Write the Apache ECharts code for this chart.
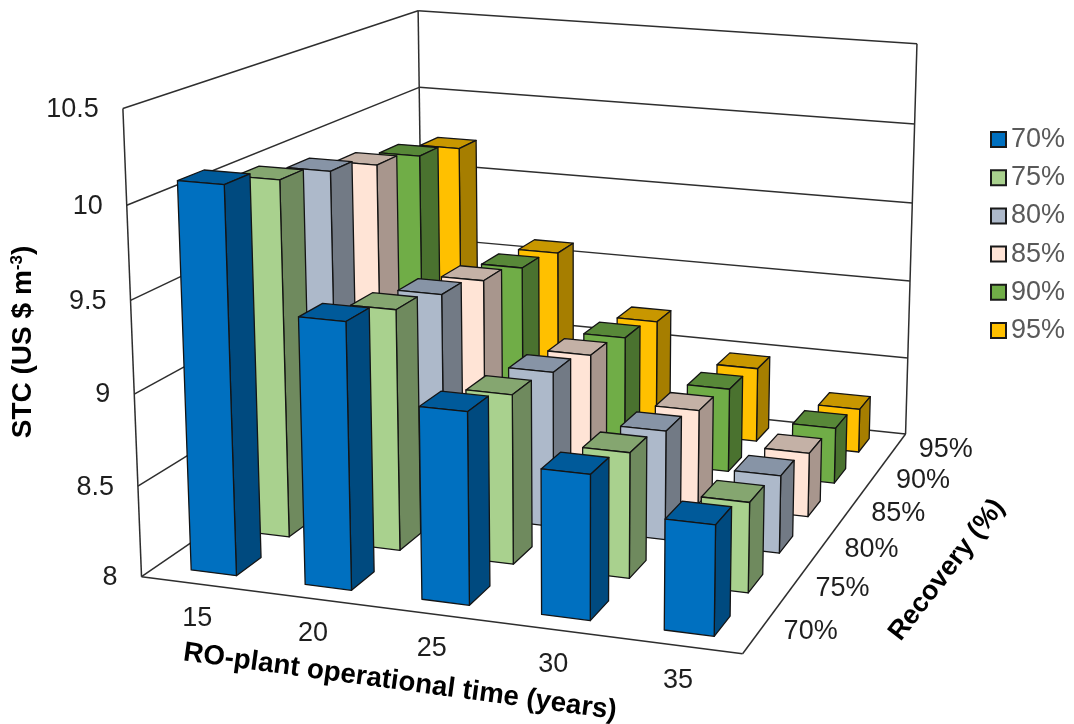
<!DOCTYPE html>
<html>
<head>
<meta charset="utf-8">
<style>html,body{margin:0;padding:0;background:#fff}#chart{width:1074px;height:724px}</style>
<script src="https://cdn.jsdelivr.net/npm/echarts@6/dist/echarts.min.js"></script>
</head>
<body>
<div id="chart"></div>
<script>
// Chart values
const timeLabels = ['15', '20', '25', '30', '35'];
const recoveryLabels = ['70%', '75%', '80%', '85%', '90%', '95%'];
const valueTicks = [8, 8.5, 9, 9.5, 10, 10.5];
const stc70 = [10.11, 9.45, 9.04, 8.78, 8.59];
const stc75 = [10.01, 9.355, 8.95, 8.70, 8.50];
const stc80 = [9.935, 9.285, 8.90, 8.63, 8.445];
const stc85 = [9.85, 9.215, 8.83, 8.565, 8.38];
const stc90 = [9.785, 9.145, 8.77, 8.515, 8.34];
const stc95 = [9.715, 9.095, 8.71, 8.47, 8.275];
const recoverySeries = [stc70, stc75, stc80, stc85, stc90, stc95];

// Face colours per recovery level: front, side, top
const faceColors = [
  ['#0070C0', '#004A7F', '#005A9A'],
  ['#A9D18E', '#6F8A5E', '#85A670'],
  ['#ADB9CA', '#727A85', '#8794A6'],
  ['#FFE4D6', '#A8968D', '#C4B1A6'],
  ['#70AD47', '#4A722F', '#588838'],
  ['#FFC000', '#A67E00', '#C89700']
];

// Where the corners of the unit box land on the page: [u, v, w, x, y]
const boxAnchors = [
  [0, 0, 0, 142, 575], [1, 0, 0, 742, 656], [1, 1, 0, 906, 431], [0, 1, 0, 423, 386],
  [0, 0, 1, 123, 108], [0, 1, 1, 418, 10], [1, 1, 1, 917, 45]
];

// Least-squares fit of a 3x4 projective camera to the anchors
function fitCamera(anchors) {
  const rows = [], rhs = [];
  anchors.forEach(([X, Y, Z, px, py]) => {
    const x = px / 1000, y = py / 1000;
    rows.push([X, Y, Z, 1, 0, 0, 0, 0, -x * X, -x * Y, -x * Z]); rhs.push(x);
    rows.push([0, 0, 0, 0, X, Y, Z, 1, -y * X, -y * Y, -y * Z]); rhs.push(y);
  });
  const n = 11, A = [];
  for (let i = 0; i < n; i++) {
    A.push(new Array(n + 1).fill(0));
    for (let j = 0; j < n; j++) rows.forEach(r => { A[i][j] += r[i] * r[j]; });
    rows.forEach((r, k) => { A[i][n] += r[i] * rhs[k]; });
  }
  for (let c = 0; c < n; c++) {
    let p = c;
    for (let r = c + 1; r < n; r++) if (Math.abs(A[r][c]) > Math.abs(A[p][c])) p = r;
    [A[c], A[p]] = [A[p], A[c]];
    for (let r = 0; r < n; r++) {
      if (r === c) continue;
      const f = A[r][c] / A[c][c];
      for (let k = c; k <= n; k++) A[r][k] -= f * A[c][k];
    }
  }
  return A.map((row, i) => row[n] / row[i]);
}
const cam = fitCamera(boxAnchors);
function project(u, v, w) {
  const d = cam[8] * u + cam[9] * v + cam[10] * w + 1;
  return [
    1000 * (cam[0] * u + cam[1] * v + cam[2] * w + cam[3]) / d,
    1000 * (cam[4] * u + cam[5] * v + cam[6] * w + cam[7]) / d
  ];
}

const barHalfU = 0.04, barHalfV = 0.038;
const axisFont = '27px "Liberation Sans", Arial, sans-serif';
const titleFont = 'bold 28px "Liberation Sans", Arial, sans-serif';

// Turn a data point into box coordinates through the hidden axes
function toBox(api, params, timeValue, stc) {
  const p = api.coord([timeValue, stc]), g = params.coordSys;
  return [(p[0] - g.x) / g.width, (g.y + g.height - p[1]) / g.height];
}

function renderFrame(params, api) {
  const children = [];
  const line = (a, b) => children.push({
    type: 'line',
    shape: { x1: a[0], y1: a[1], x2: b[0], y2: b[1] },
    style: { stroke: '#2e2e2e', lineWidth: 1.5, fill: null }
  });
  const text = (str, x, y, align) => children.push({
    type: 'text',
    style: { text: str, x, y, font: axisFont, fill: '#1e1e1e', textAlign: align, textVerticalAlign: 'middle' }
  });
  valueTicks.forEach(t => {
    const w = toBox(api, params, 0, t)[1];
    line(project(0, 0, w), project(0, 1, w));
    line(project(0, 1, w), project(1, 1, w));
    const p = project(0, 0, w);
    text(String(t), p[0] - 24, p[1] + 1, 'right');
  });
  line(project(0, 0, 0), project(1, 0, 0));
  line(project(1, 0, 0), project(1, 1, 0));
  line(project(0, 0, 0), project(0, 0, 1));
  line(project(0, 1, 0), project(0, 1, 1));
  line(project(1, 1, 0), project(1, 1, 1));
  timeLabels.forEach((t, i) => {
    const p = project(toBox(api, params, i + 0.5, 8)[0], 0, 0);
    text(t, p[0] - 1, p[1] + 35, 'center');
  });
  recoveryLabels.forEach((t, j) => {
    const p = project(1, (j + 0.5) / recoveryLabels.length, 0);
    text(t, p[0] + 51, p[1] + 1, 'center');
  });
  return { type: 'group', children };
}

function barRenderer(j) {
  return function (params, api) {
    const colors = faceColors[j];
    const uC = toBox(api, params, api.value(0), 8)[0];
    const w = toBox(api, params, 0, api.value(1))[1];
    const v = (j + 0.5) / recoveryLabels.length;
    const u0 = uC - barHalfU, u1 = uC + barHalfU, v0 = v - barHalfV, v1 = v + barHalfV;
    const face = (pts, fill) => ({
      type: 'polygon',
      shape: { points: pts.map(q => project(q[0], q[1], q[2])) },
      style: { fill, stroke: '#141414', lineWidth: 1.3, lineJoin: 'round' }
    });
    return {
      type: 'group',
      children: [
        face([[u0, v1, w], [u1, v1, w], [u1, v0, w], [u0, v0, w]], colors[2]),
        face([[u1, v0, 0], [u1, v1, 0], [u1, v1, w], [u1, v0, w]], colors[1]),
        face([[u0, v0, 0], [u1, v0, 0], [u1, v0, w], [u0, v0, w]], colors[0])
      ]
    };
  };
}

const barSeries = recoveryLabels.map((name, j) => ({
  name,
  type: 'custom',
  coordinateSystem: 'cartesian2d',
  z: 10 + recoveryLabels.length - j,
  clip: false,
  silent: true,
  animation: false,
  itemStyle: { color: faceColors[j][0], borderColor: '#1a1a1a', borderWidth: 1.3 },
  renderItem: barRenderer(j),
  data: recoverySeries[j].map((s, i) => [i + 0.5, s])
}));

const chart = echarts.init(document.getElementById('chart'), null, { renderer: 'canvas' });
chart.setOption({
  backgroundColor: '#ffffff',
  animation: false,
  grid: { left: 0, right: 0, top: 0, bottom: 0, show: false },
  xAxis: { type: 'value', min: 0, max: timeLabels.length, show: false },
  yAxis: { type: 'value', min: valueTicks[0], max: valueTicks[valueTicks.length - 1], show: false },
  legend: {
    orient: 'vertical',
    left: 990,
    top: 126,
    padding: 0,
    itemWidth: 15,
    itemHeight: 15,
    itemGap: 11.2,
    data: recoveryLabels.map(name => ({ name, icon: 'rect' })),
    textStyle: { fontSize: 27, color: '#595959', fontFamily: '"Liberation Sans", Arial, sans-serif' },
    selectedMode: false
  },
  graphic: [
    {
      type: 'text', x: 23, y: 342, rotation: Math.PI / 2, z: 50,
      style: {
        text: '{a|STC (US $ m}{s|-3}{a|)}',
        textAlign: 'center', textVerticalAlign: 'middle',
        rich: {
          a: { font: titleFont, fill: '#000000' },
          s: { font: 'bold 17px "Liberation Sans", Arial, sans-serif', fill: '#000000', verticalAlign: 'top' }
        }
      }
    },
    {
      type: 'text', x: 400, y: 682, rotation: -0.135, z: 50,
      style: { text: 'RO-plant operational time (years)', font: 'bold 27.7px "Liberation Sans", Arial, sans-serif', fill: '#000000', textAlign: 'center', textVerticalAlign: 'middle' }
    },
    {
      type: 'text', x: 947, y: 570, rotation: 0.91, z: 50,
      style: { text: 'Recovery (%)', font: 'bold 27px "Liberation Sans", Arial, sans-serif', fill: '#000000', textAlign: 'center', textVerticalAlign: 'middle' }
    }
  ],
  series: [
    {
      type: 'custom',
      coordinateSystem: 'cartesian2d',
      z: 1,
      silent: true,
      clip: false,
      animation: false,
      legendHoverLink: false,
      renderItem: renderFrame,
      data: [[0, valueTicks[0]]]
    }
  ].concat(barSeries)
});
</script>
</body>
</html>
